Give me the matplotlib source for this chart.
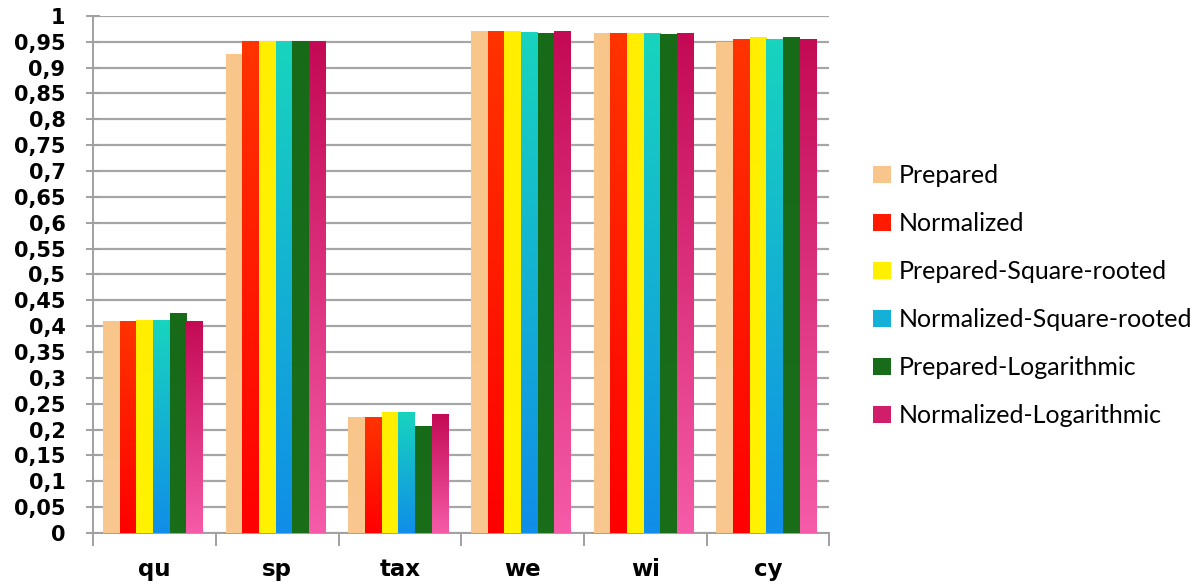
import numpy as np
import matplotlib
matplotlib.use('Agg')
import matplotlib.pyplot as plt
from matplotlib.colors import LinearSegmentedColormap
from matplotlib.patches import Patch

# data
categories = ['qu', 'sp', 'tax', 'we', 'wi', 'cy']
prepared = [0.409, 0.926, 0.224, 0.970, 0.966, 0.949]
normalized = [0.409, 0.951, 0.224, 0.970, 0.966, 0.956]
prepared_sqrt = [0.411, 0.951, 0.234, 0.970, 0.966, 0.959]
normalized_sqrt = [0.411, 0.951, 0.234, 0.969, 0.966, 0.956]
prepared_log = [0.426, 0.951, 0.206, 0.967, 0.965, 0.959]
normalized_log = [0.409, 0.951, 0.231, 0.970, 0.966, 0.956]

series_names = ['Prepared', 'Normalized', 'Prepared-Square-rooted',
                'Normalized-Square-rooted', 'Prepared-Logarithmic',
                'Normalized-Logarithmic']
series_values = [prepared, normalized, prepared_sqrt, normalized_sqrt,
                 prepared_log, normalized_log]
# (bottom colour, top colour) of each bar's vertical gradient
series_colors = [('#F8C790', '#F8C58A'),
                 ('#FF0000', '#FF3300'),
                 ('#FFF200', '#FFEE00'),
                 ('#108EE8', '#18D4BE'),
                 ('#1A6E1A', '#176A18'),
                 ('#F55BA8', '#C40A55')]
legend_colors = ['#F8C68C', '#FF1A00', '#FFF000', '#15B0D8', '#186C19', '#D01E6A']

fig = plt.figure(figsize=(11.95, 5.87), dpi=100)
ax = fig.add_axes([0.078, 0.092, 0.616, 0.881])

x = np.arange(len(categories))
w = 0.136
grad = np.linspace(0, 1, 64).reshape(-1, 1)

for j, (vals, cols) in enumerate(zip(series_values, series_colors)):
    cmap = LinearSegmentedColormap.from_list('g%d' % j, cols)
    bars = ax.bar(x + (j - 2.5) * w - 0.013, vals, width=w, color='none',
                  edgecolor='none', zorder=3)
    for b in bars:
        bx, by = b.get_x(), b.get_y()
        bw, bh = b.get_width(), b.get_height()
        im = ax.imshow(grad, extent=[bx, bx + bw, by, by + bh], origin='lower',
                       aspect='auto', cmap=cmap, zorder=3, interpolation='bilinear')
        im.set_clip_path(b)

ax.set_xlim(-0.5, len(categories) - 0.5)
ax.set_ylim(0, 1)

yt = np.round(np.arange(0, 1.0001, 0.05), 2)
ax.set_yticks(yt)
ax.set_yticklabels([('%g' % v).replace('.', ',') for v in yt])
ax.yaxis.grid(True, color='#A6A6A6', linewidth=1.6, zorder=0)
ax.set_axisbelow(True)

ax.set_xticks(np.arange(-0.5, len(categories), 1.0))
ax.set_xticklabels([])
ax.set_xticks(x, minor=True)
ax.set_xticklabels(categories, minor=True, fontsize=16.5, fontweight='bold')
ax.tick_params(axis='x', which='minor', length=0, pad=18)
ax.tick_params(axis='x', which='major', length=9, color='#A0A0A0', width=1.4)
ax.tick_params(axis='y', direction='inout', length=10, color='#A0A0A0',
               width=1.4, labelsize=15, pad=15)
for lab in ax.get_yticklabels():
    lab.set_fontweight('bold')

for s in ['top', 'right']:
    ax.spines[s].set_visible(False)
for s in ['left', 'bottom']:
    ax.spines[s].set_color('#A0A0A0')
    ax.spines[s].set_linewidth(1.4)

handles = [Patch(facecolor=c, edgecolor='none') for c in legend_colors]
fig.legend(handles, series_names, loc='center left',
           bbox_to_anchor=(0.712, 0.496), frameon=False,
           prop={'family': 'Lato', 'size': 18},
           handlelength=0.7, handleheight=0.7, handletextpad=0.3,
           labelspacing=1.0)

fig.savefig('out.png', dpi=100)
